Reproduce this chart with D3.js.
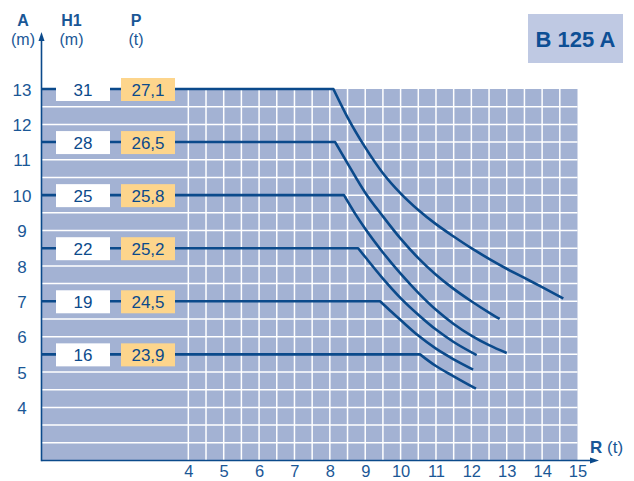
<!DOCTYPE html>
<html>
<head>
<meta charset="utf-8">
<script src="https://cdn.jsdelivr.net/npm/d3@7"></script>
<style>
  body { margin: 0; background: #fff; }
  text { font-family: "Liberation Sans Narrow", "Liberation Sans", Arial, sans-serif; }
</style>
</head>
<body>
<div id="plot"></div>
<script>
// chart values
const heightA = [13, 11.5, 10, 8.5, 7, 5.5];
const h1Labels = ["31", "28", "25", "22", "19", "16"];
const pLabels = ["27,1", "26,5", "25,8", "25,2", "24,5", "23,9"];
const xTicks = [4, 5, 6, 7, 8, 9, 10, 11, 12, 13, 14, 15];
const yTicks = [4, 5, 6, 7, 8, 9, 10, 11, 12, 13];

// curves, [R, A]
const curve31 = [[8.1, 13], [8.5, 12.2], [9, 11.35], [9.5, 10.62], [10, 10.05], [10.5, 9.58], [11, 9.18], [11.5, 8.83], [12, 8.5], [12.5, 8.2], [13, 7.92], [13.5, 7.66], [14, 7.4], [14.6, 7.08]];
const curve28 = [[8.15, 11.5], [8.5, 10.9], [9, 10.07], [9.5, 9.4], [10, 8.77], [10.5, 8.22], [11, 7.75], [11.5, 7.35], [12, 7.0], [12.5, 6.68], [12.8, 6.5]];
const curve25 = [[8.4, 10], [8.7, 9.5], [9, 9.05], [9.5, 8.38], [10, 7.78], [10.5, 7.24], [11, 6.76], [11.5, 6.36], [12, 6.03], [12.5, 5.76], [13, 5.54]];
const curve22 = [[8.8, 8.5], [9, 8.25], [9.5, 7.64], [10, 7.09], [10.5, 6.62], [11, 6.2], [11.5, 5.85], [12.15, 5.48]];
const curve19 = [[9.42, 7], [9.7, 6.74], [10, 6.47], [10.5, 6.03], [11, 5.66], [11.5, 5.36], [12.05, 5.07]];
const curve16 = [[10.55, 5.5], [10.8, 5.31], [11, 5.17], [11.5, 4.88], [12.13, 4.53]];
const curves = [curve31, curve28, curve25, curve22, curve19, curve16];

const W = 634, H = 481;
const blue = "#0b4a8b";
const textBlue = "#1a5796";

// left part of the panel (labels zone) is below R = 4
const x = d3.scaleLinear().domain([-0.15, 15]).range([41.5, 577.5]);
const y = d3.scaleLinear().domain([2.5, 13]).range([460.5, 89]);

const svg = d3.select("#plot")
  .append("svg")
    .attr("width", W)
    .attr("height", H);

// panel background
svg.append("rect")
    .attr("x", x(-0.15))
    .attr("y", y(13))
    .attr("width", x(15) - x(-0.15))
    .attr("height", y(2.5) - y(13))
    .attr("fill", "#a3b2d3");

// grid, every 0.5
const hLines = d3.range(3, 13, 0.5);
const vLines = d3.range(4, 15, 0.5);

svg.append("g")
  .selectAll("line")
  .data(hLines)
  .join("line")
    .attr("x1", x(-0.15))
    .attr("x2", x(15))
    .attr("y1", d => y(d))
    .attr("y2", d => y(d))
    .attr("stroke", "#fff")
    .attr("stroke-width", 1.5);

svg.append("g")
  .selectAll("line")
  .data(vLines)
  .join("line")
    .attr("x1", d => x(d))
    .attr("x2", d => x(d))
    .attr("y1", y(13))
    .attr("y2", y(2.5))
    .attr("stroke", "#fff")
    .attr("stroke-width", 1.5);

// flat part then the curve
const flat = d3.line().x(d => x(d[0])).y(d => y(d[1]));
const curvy = d3.line().x(d => x(d[0])).y(d => y(d[1])).curve(d3.curveMonotoneX);

svg.append("g")
  .selectAll("path")
  .data(curves)
  .join("path")
    .attr("fill", "none")
    .attr("stroke", blue)
    .attr("stroke-width", 2.6)
    .attr("stroke-linejoin", "round")
    .attr("d", d => flat([[-0.15, d[0][1]], d[0]]) + "L" + curvy(d).slice(1));

// label boxes
const boxes = svg.append("g");
heightA.forEach((a, i) => {
  const cy = y(a) + 0.5;
  boxes.append("rect")
      .attr("x", 56).attr("y", cy - 11.5)
      .attr("width", 54).attr("height", 23)
      .attr("fill", "#fff");
  boxes.append("rect")
      .attr("x", 121).attr("y", cy - 11.5)
      .attr("width", 54).attr("height", 23)
      .attr("fill", "#fdd58c");
  boxes.append("text")
      .attr("x", 83).attr("y", cy).attr("dy", "0.36em")
      .attr("text-anchor", "middle")
      .attr("font-size", 17).attr("fill", blue)
      .text(h1Labels[i]);
  boxes.append("text")
      .attr("x", 148).attr("y", cy).attr("dy", "0.36em")
      .attr("text-anchor", "middle")
      .attr("font-size", 17).attr("fill", blue)
      .text(pLabels[i]);
});

// y axis labels
const yAxis = svg.append("g")
    .attr("transform", `translate(${x(-0.15)},0)`)
    .call(d3.axisLeft(y).tickValues(yTicks).tickSize(0).tickFormat(d3.format("d")));
yAxis.select(".domain").remove();
yAxis.selectAll("text")
    .attr("x", -19.5)
    .attr("dy", "0.36em")
    .attr("text-anchor", "middle")
    .attr("font-size", 17)
    .attr("fill", textBlue)
    .attr("font-family", null);

// x axis labels
const xAxis = svg.append("g")
    .attr("transform", `translate(0,${y(2.5)})`)
    .call(d3.axisBottom(x).tickValues(xTicks).tickSize(0).tickFormat(d3.format("d")));
xAxis.select(".domain").remove();
xAxis.selectAll("text")
    .attr("y", 16.5)
    .attr("dy", 0)
    .attr("font-size", 16.5)
    .attr("fill", textBlue)
    .attr("font-family", null);

// axis lines with arrows
svg.append("line")
    .attr("x1", x(-0.15)).attr("x2", x(-0.15))
    .attr("y1", y(2.5) + 0.8).attr("y2", 38)
    .attr("stroke", blue).attr("stroke-width", 1.6);
svg.append("path")
    .attr("d", `M${x(-0.15)},32 L${x(-0.15) - 3},41 L${x(-0.15) + 3},41 Z`)
    .attr("fill", blue);
svg.append("line")
    .attr("x1", x(-0.15)).attr("x2", 593)
    .attr("y1", y(2.5)).attr("y2", y(2.5))
    .attr("stroke", blue).attr("stroke-width", 1.6);
svg.append("path")
    .attr("d", `M599,${y(2.5)} L590,${y(2.5) - 3} L590,${y(2.5) + 3} Z`)
    .attr("fill", blue);

// headers
const heads = [
  { cx: 23, top: "A", bot: "(m)" },
  { cx: 71.5, top: "H1", bot: "(m)" },
  { cx: 136, top: "P", bot: "(t)" }
];
heads.forEach(h => {
  svg.append("text")
      .attr("x", h.cx).attr("y", 26)
      .attr("text-anchor", "middle")
      .attr("font-size", 16).attr("font-weight", "bold")
      .attr("fill", textBlue)
      .text(h.top);
  svg.append("text")
      .attr("x", h.cx).attr("y", 45)
      .attr("text-anchor", "middle")
      .attr("font-size", 16)
      .attr("fill", textBlue)
      .text(h.bot);
});

const rLab = svg.append("text")
    .attr("x", 590).attr("y", 453)
    .attr("font-size", 17)
    .attr("fill", textBlue);
rLab.append("tspan").attr("font-weight", "bold").text("R");
rLab.append("tspan").text(" (t)");

// title box
svg.append("rect")
    .attr("x", 528).attr("y", 14)
    .attr("width", 95).attr("height", 49)
    .attr("fill", "#bfc9e3");
svg.append("text")
    .attr("x", 575.5).attr("y", 39).attr("dy", "0.36em")
    .attr("text-anchor", "middle")
    .attr("font-size", 22).attr("font-weight", "bold")
    .attr("fill", "#0d4f95")
    .text("B 125 A");
</script>
</body>
</html>
